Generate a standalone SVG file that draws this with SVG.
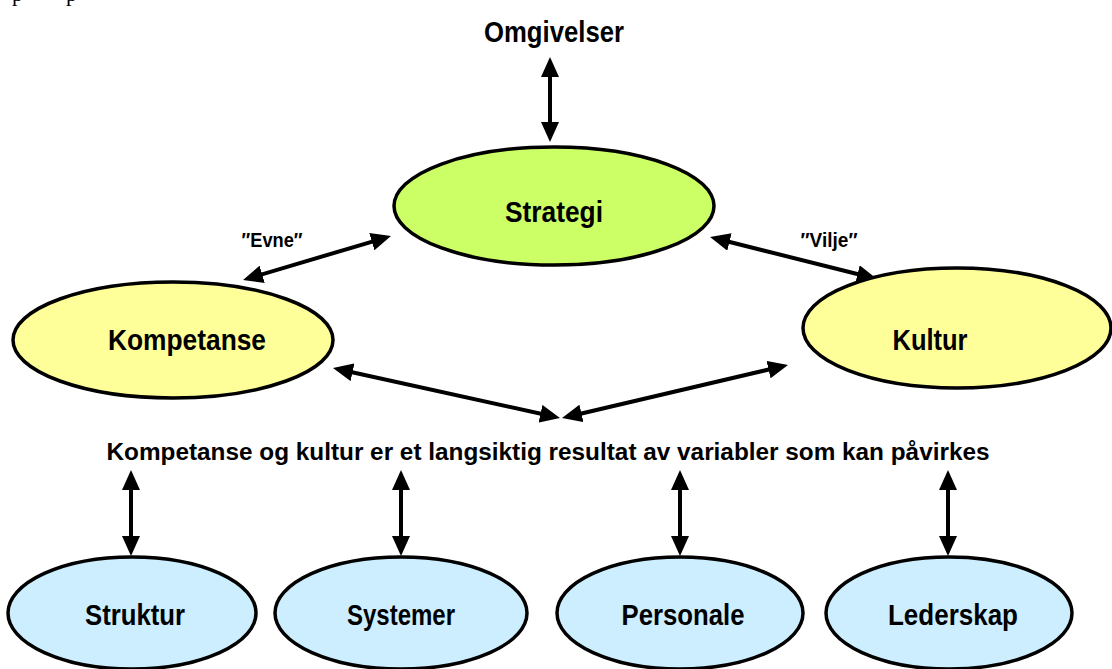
<svg xmlns="http://www.w3.org/2000/svg" width="1112" height="669" viewBox="0 0 1112 669">
  <style>
    .lbl { font-family: "Liberation Sans Narrow", "Arial Narrow", "Liberation Sans", Arial, sans-serif; font-weight: bold; fill: #000; text-anchor: middle; }
    .big { font-size: 29px; }
    .mid { font-size: 23px; }
    .small { font-size: 21px; }
    .node { stroke: #000; stroke-width: 3.5; }
    .green { fill: #ccff66; }
    .yellow { fill: #ffff99; }
    .blue { fill: #cceeff; }
    .conn { stroke: #000; stroke-width: 4; fill: none; marker-start: url(#head); marker-end: url(#head); }
    .frag { font-family: "Liberation Serif", "Times New Roman", serif; font-size: 22px; fill: #000; }
  </style>
  <defs>
    <marker id="head" markerUnits="userSpaceOnUse" markerWidth="20" markerHeight="18" refX="12" refY="9" orient="auto-start-reverse" viewBox="0 0 20 18">
      <path d="M0,0 L20,9 L0,18 Z" fill="#000"/>
    </marker>
  </defs>
  <rect width="1112" height="669" fill="#fff"/>

  <!-- descenders of the line above -->
  <text class="frag" x="12" y="0.5">p</text>
  <text class="frag" x="66" y="0.5">p</text>

  <!-- connectors -->
  <g id="connectors">
    <line class="conn" x1="550" y1="65" x2="550" y2="134"/>
    <line class="conn" x1="250.7" y1="277.7" x2="383.3" y2="238.3"/>
    <line class="conn" x1="717.8" y1="239" x2="869.2" y2="277"/>
    <line class="conn" x1="340.8" y1="369.7" x2="552.2" y2="416.3"/>
    <line class="conn" x1="569.8" y1="416.2" x2="780.2" y2="366.8"/>
    <line class="conn" x1="131" y1="478" x2="131" y2="548"/>
    <line class="conn" x1="401" y1="478" x2="401" y2="548"/>
    <line class="conn" x1="680" y1="478" x2="680" y2="548"/>
    <line class="conn" x1="948" y1="478" x2="948" y2="548"/>
  </g>

  <g id="omgivelser">
    <text class="lbl big" x="554" y="42" textLength="140" lengthAdjust="spacingAndGlyphs">Omgivelser</text>
  </g>

  <g id="strategi">
    <ellipse class="node green" cx="554" cy="206" rx="160" ry="59"/>
    <text class="lbl big" x="554" y="222" textLength="98" lengthAdjust="spacingAndGlyphs">Strategi</text>
  </g>

  <g id="evne">
    <text class="lbl small" x="272" y="247" textLength="61" lengthAdjust="spacingAndGlyphs">″Evne″</text>
  </g>

  <g id="vilje">
    <text class="lbl small" x="829" y="247" textLength="57" lengthAdjust="spacingAndGlyphs">″Vilje″</text>
  </g>

  <g id="kompetanse">
    <ellipse class="node yellow" cx="173" cy="340" rx="160" ry="58"/>
    <text class="lbl big" x="187" y="350" textLength="158" lengthAdjust="spacingAndGlyphs">Kompetanse</text>
  </g>

  <g id="kultur">
    <ellipse class="node yellow" cx="957" cy="328" rx="154" ry="60"/>
    <text class="lbl big" x="930" y="350" textLength="75" lengthAdjust="spacingAndGlyphs">Kultur</text>
  </g>

  <g id="resultat">
    <text class="lbl mid" x="548" y="460" textLength="883" lengthAdjust="spacingAndGlyphs">Kompetanse og kultur er et langsiktig resultat av variabler som kan påvirkes</text>
  </g>

  <g id="struktur">
    <ellipse class="node blue" cx="132" cy="613" rx="124" ry="56"/>
    <text class="lbl big" x="135" y="625" textLength="100" lengthAdjust="spacingAndGlyphs">Struktur</text>
  </g>

  <g id="systemer">
    <ellipse class="node blue" cx="401" cy="613" rx="126" ry="56"/>
    <text class="lbl big" x="401" y="625" textLength="108" lengthAdjust="spacingAndGlyphs">Systemer</text>
  </g>

  <g id="personale">
    <ellipse class="node blue" cx="680" cy="613" rx="123" ry="56"/>
    <text class="lbl big" x="683" y="625" textLength="123" lengthAdjust="spacingAndGlyphs">Personale</text>
  </g>

  <g id="lederskap">
    <ellipse class="node blue" cx="949" cy="613" rx="123" ry="56"/>
    <text class="lbl big" x="953" y="625" textLength="130" lengthAdjust="spacingAndGlyphs">Lederskap</text>
  </g>
</svg>
